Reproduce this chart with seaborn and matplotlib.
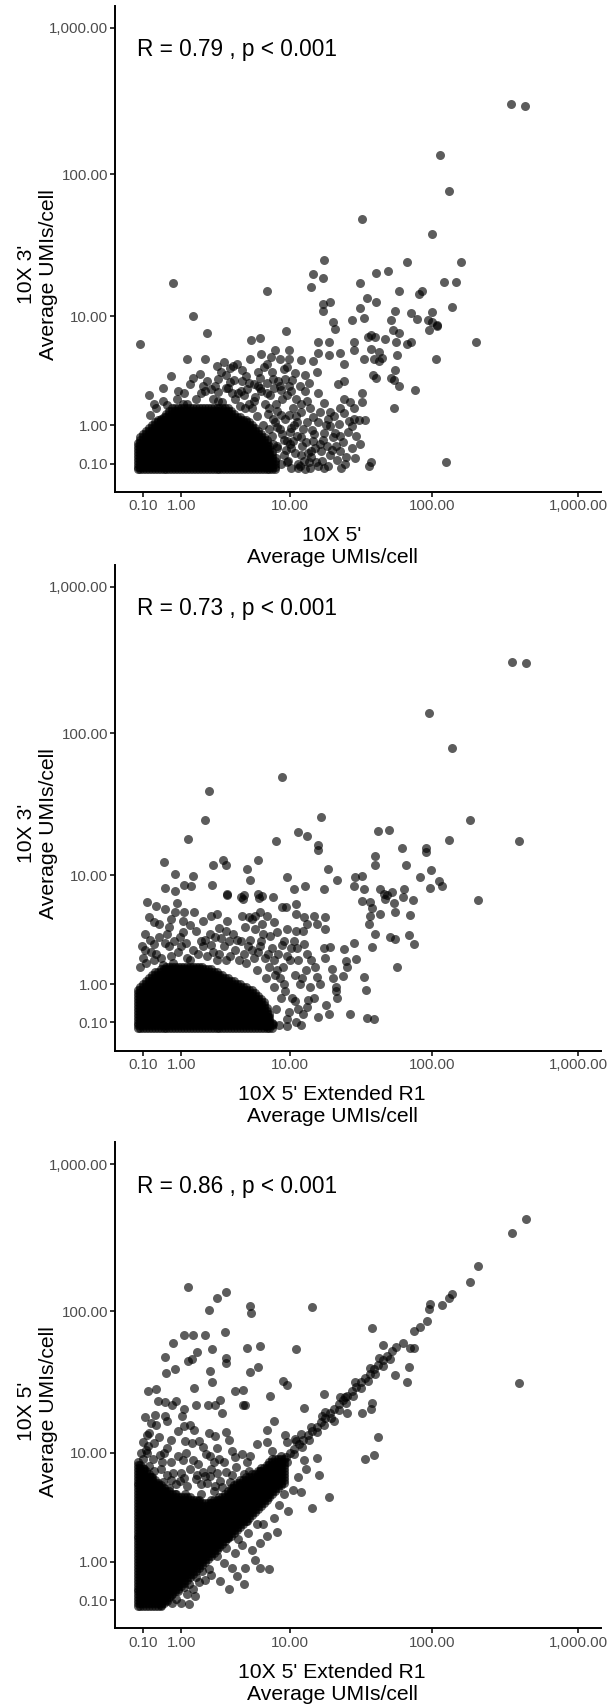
import numpy as np
import pandas as pd
import matplotlib
matplotlib.use("Agg")
import matplotlib.pyplot as plt
import seaborn as sns

# ================= AXIS TICKS =================
tick_values = [0.1, 1, 10, 100, 1000]
tick_labels = ["0.10", "1.00", "10.00", "100.00", "1,000.00"]

# ================= DENSE CORE (overplotted genes) =================
# UMIs/cell levels used to cover the solid black mass near the origin
core_levels = [0.01, 0.047, 0.096, 0.148, 0.202, 0.259, 0.318, 0.380, 0.445, 0.514,
               0.585, 0.660, 0.738, 0.820, 0.905, 0.995, 1.089, 1.188, 1.291, 1.399,
               1.512, 1.630, 1.754, 1.884, 2.020, 2.162, 2.311, 2.467, 2.631, 2.802,
               2.981, 3.169, 3.365, 3.571, 3.786, 4.012, 4.248, 4.495, 4.754, 5.026,
               5.310, 5.607, 5.918, 6.244, 6.586, 6.943, 7.318, 7.710, 8.120, 8.550,
               9.0]

# (row level, first column level, last column level)
core1_rows = [(0, 0, 47), (1, 0, 47), (2, 0, 47), (3, 0, 47), (4, 0, 46), (5, 0, 46),
              (6, 0, 46), (7, 0, 45), (8, 0, 45), (9, 0, 44), (10, 1, 44), (11, 1, 43),
              (12, 2, 42), (13, 3, 41), (14, 4, 40), (15, 5, 39), (16, 6, 38), (17, 7, 37),
              (18, 9, 35), (19, 10, 33), (20, 11, 32), (21, 12, 31)]

core2_rows = [(0, 0, 46), (1, 0, 46), (2, 0, 46), (3, 0, 45), (4, 0, 45), (5, 0, 45),
              (6, 0, 44), (7, 0, 44), (8, 0, 43), (9, 0, 43), (10, 0, 42), (11, 0, 41),
              (12, 0, 40), (13, 0, 39), (14, 1, 37), (15, 2, 35), (16, 3, 33), (17, 4, 31),
              (18, 5, 29), (19, 6, 27), (20, 8, 25), (21, 10, 22)]

core3_rows = [(0, 0, 8), (1, 0, 9), (2, 0, 10), (3, 0, 11), (4, 0, 12), (5, 0, 13),
              (6, 0, 14), (7, 0, 15), (8, 0, 16), (9, 0, 17), (10, 0, 18), (11, 0, 19),
              (12, 0, 20), (13, 0, 21), (14, 0, 22), (15, 0, 23), (16, 0, 24), (17, 0, 25),
              (18, 0, 26), (19, 0, 27), (20, 0, 28), (21, 0, 29), (22, 0, 30), (23, 0, 31),
              (24, 0, 32), (25, 0, 33), (26, 0, 34), (27, 0, 35), (28, 0, 36), (29, 0, 37),
              (30, 0, 38), (31, 0, 39), (32, 0, 40), (33, 0, 41), (34, 0, 42), (35, 0, 43),
              (36, 0, 21), (36, 25, 44), (37, 0, 17), (37, 28, 45), (38, 0, 13), (38, 30, 46),
              (39, 0, 11), (39, 31, 47), (40, 0, 9), (40, 32, 48), (41, 0, 8), (41, 33, 49),
              (42, 0, 7), (42, 34, 50), (43, 0, 6), (43, 35, 50), (44, 0, 5), (44, 37, 50),
              (45, 0, 4), (45, 39, 50), (46, 0, 3), (46, 41, 50), (47, 0, 2), (47, 42, 50),
              (48, 0, 1), (48, 44, 50), (49, 0, 0), (49, 45, 50), (50, 46, 50)]

# ================= PANEL 1 : 10X 5' (x) vs 10X 3' (y) =================
p1_outliers = [(345, 302), (429, 294), (114, 136), (130, 77), (33, 49.6), (100, 39),
               (17.7, 25.7), (67.5, 24.5), (159, 24.8), (14.6, 20.3), (50, 21.2),
               (41.2, 20.6), (0.75, 17.4), (17.4, 19), (14.1, 16.5), (31.6, 17.45),
               (121, 17.7), (145.6, 17.9), (6.6, 15.2), (59.5, 15.4), (86, 15.4),
               (82, 14.6), (35.4, 13.6), (40.9, 12.8), (17.4, 12.3), (19.6, 12.65),
               (136.8, 11.7), (32, 11.6), (17.3, 10.85), (1.41, 10), (27.8, 9.4),
               (33.7, 9.7), (55.6, 11), (71.4, 10.6), (78.4, 9.6), (100, 10.7),
               (100.6, 9), (108, 8.44), (96, 7.9), (109, 8.6), (200.8, 6.3),
               (106.9, 4.6), (75.9, 2.49), (124.9, 0.13), (37.7, 0.13), (37, 0.06),
               (0.047, 6.1), (0.30, 1.81), (2.01, 7.53), (9.33, 7.67), (4.95, 6.6),
               (5.9, 6.8), (1.2, 4.66), (1.88, 4.66), (1.68, 3.46), (2.49, 4.05),
               (2.92, 4.35)]
p1_middle = [(7.6, 5.53), (9.8, 5.53), (9.8, 4.66), (12.1, 4.56), (14.6, 4.5), (16.1, 6.3),
             (16.1, 5.17), (19.3, 6.3), (19.3, 4.99), (20.6, 9), (21, 8.0), (23, 5.17),
             (24.5, 4.2), (28.7, 6.3), (28.7, 5.5), (33.7, 4.66), (37.7, 5.6), (40, 4.66),
             (43.3, 4.5), (35.9, 6.9), (38, 7.2), (40.5, 6.9), (47.5, 6.73), (52.2, 9.3),
             (54, 7.9), (56.3, 6.3), (59.1, 7.4), (57.5, 4.99), (55.6, 3.77), (55, 3.03),
             (59, 2.7), (55, 1.6), (52, 3.2), (45, 4.7), (43, 5.3), (67, 6.1), (71.5, 6.4),
             (94.5, 9.3), (39.4, 3.38), (41, 3.2), (33, 2.33), (32.7, 1.86), (34.7, 1.18),
             (31, 1.18), (28.7, 1.62), (24.5, 3.0), (22.2, 2.8), (24.5, 2.02), (21.1, 0.76),
             (17.7, 0.76), (16.9, 0.33), (20.5, 0.67), (21.8, 0.17), (25.3, 0.22),
             (17.7, 0.03), (16.1, 0.05), (12.8, 0.01), (11.5, 0.02), (14.1, 0.33),
             (11.97, 0.67), (14.6, 1.28), (13.2, 1.94), (15.9, 2.3), (15.6, 3.58),
             (12.8, 3.4), (10.35, 3.03), (8.55, 2.49), (9.8, 2.7), (12, 1.48), (10.1, 0.92),
             (9.5, 0.56), (14.1, 0.22), (10.1, 0.4), (8.0, 0.95), (17.7, 1.85), (19.6, 1.48),
             (3.52, 4.05), (4.16, 3.77), (4.9, 4.66), (5.6, 3.6), (6.7, 4.2), (2.57, 3.14),
             (3.3, 2.91), (4.2, 3.0), (5.2, 2.8), (7.4, 3.14), (6.7, 2.3), (2.16, 2.53),
             (1.7, 2.3), (3.86, 2.3), (1.2, 1.8), (2.57, 1.94), (4.8, 1.8)]
p1_fringe = [(0.51, 1.94), (0.875, 2.03), (1.06, 1.81), (1.8, 2.69), (2.57, 2.39),
             (3.17, 2.59), (3.57, 3.03), (4.33, 2.2), (5.21, 1.94), (5.6, 2.7), (6.94, 1.62),
             (7.45, 1.21), (8.55, 1.34), (9.8, 1.34), (11.2, 1.09), (10.5, 0.57), (12, 0.25),
             (13.7, 0.12), (9.5, 0.12), (7.97, 0.41), (14.6, 0.57), (16.6, 0.49), (19.6, 0.98),
             (23.0, 0.33), (27.8, 0.98), (28.7, 1.21), (24.5, 1.41), (7.0, 0.05), (7.8, 0.2),
             (8.5, 0.1), (9.3, 0.35), (10.2, 0.03), (8.0, 0.45), (9.0, 0.6), (10.8, 0.3),
             (11.5, 0.1), (7.3, 0.7), (8.3, 0.9), (9.6, 0.15), (12.3, 0.45), (6.6, 0.3),
             (6.9, 0.9), (7.6, 1.1), (0.22, 1.35), (0.35, 1.6), (0.6, 1.75), (0.45, 1.2),
             (2.8, 1.9), (3.4, 2.3), (4.0, 1.7), (4.6, 2.5), (5.3, 2.1), (6.0, 2.4), (6.4, 1.8),
             (7.0, 2.2), (7.8, 1.8), (8.6, 2.0), (3.0, 3.4), (3.8, 4.2), (4.5, 3.3), (5.8, 3.2),
             (6.3, 4.0), (7.2, 3.6), (8.1, 3.0), (8.9, 3.8), (9.5, 2.2), (2.3, 2.0), (2.0, 3.0),
             (5.0, 1.6), (9.0, 0.25), (10.0, 0.8), (11.0, 1.3), (12.5, 0.9), (13.0, 0.55),
             (14.0, 1.6), (15.0, 0.75), (16.0, 1.1), (17.0, 0.15), (18.5, 0.45), (19.0, 1.2),
             (11.8, 0.05), (13.5, 0.3), (15.5, 0.12), (10.5, 1.6), (12.0, 1.8), (20.0, 0.35),
             (22.5, 1.05), (24.0, 0.55), (26.0, 0.8), (28.0, 0.4), (30.0, 0.7), (23.0, 1.6),
             (27.0, 1.9), (0.2, 2.2), (0.5, 2.6), (0.9, 2.4), (1.3, 2.8), (0.7, 3.3),
             (5.5, 1.3), (6.2, 1.0), (6.8, 1.4), (7.4, 0.5), (7.9, 1.5), (8.7, 0.75),
             (9.1, 1.2), (9.9, 0.5), (10.6, 1.0), (11.3, 0.7), (5.9, 2.6), (6.6, 2.9),
             (7.5, 2.6), (8.3, 2.7), (9.2, 3.1), (10.2, 2.4), (11.1, 2.0), (11.9, 2.7),
             (12.9, 2.4), (13.8, 2.9), (10.9, 3.5), (9.4, 4.0), (8.4, 4.6), (7.1, 4.8),
             (6.0, 5.1), (12.6, 0.15), (13.2, 1.1), (14.4, 0.85), (15.2, 0.4), (16.4, 1.45),
             (17.3, 0.6), (18.1, 1.0), (19.5, 0.25), (20.8, 1.3), (21.6, 0.45), (22.9, 0.7),
             (24.8, 0.1), (26.5, 1.15), (29.3, 0.2), (31.8, 0.5), (13.9, 0.02), (19.0, 0.05),
             (23.5, 0.02), (1.1, 2.3), (1.5, 2.0), (1.9, 2.4), (2.4, 2.7), (3.0, 2.6),
             (3.6, 2.0), (4.1, 2.4), (4.4, 1.6), (2.7, 3.6), (3.3, 3.9), (4.8, 2.9), (1.4, 3.2)]

# ================= PANEL 2 : 10X 5' Extended R1 (x) vs 10X 3' (y) =================
p2_outliers = [(352, 304.5), (439.5, 299.6), (96, 137.3), (136.7, 78.6), (8.68, 50.2),
               (2.08, 39.8), (1.89, 25), (181.4, 25.2), (16.9, 26.1), (1.22, 18.2),
               (7.81, 17.6), (11.4, 20.4), (13.26, 19.2), (15.9, 16.7), (16, 15.3),
               (42.3, 20.9), (50.9, 21.4), (130.8, 17.9), (393.5, 17.7), (91.5, 15.7),
               (91, 14.8), (62.7, 15.8), (40.2, 13.7), (40.2, 11.85), (66.8, 11.85),
               (99, 10.9), (83.3, 9.6), (96.5, 7.93), (111, 9.07), (117.3, 8.2),
               (205.5, 6.48), (74.2, 6.48), (70.3, 4.92), (69.5, 3.33), (74.9, 2.74),
               (57.5, 1.62), (56, 5.14), (56, 3.05), (51.2, 3.15), (63.9, 7.83),
               (63.5, 6.75), (53.1, 7.38), (49, 7.08), (47.8, 6.6), (47, 7.2), (44.1, 7.83),
               (55, 6.1), (37.5, 6.17), (33, 6.36), (38.5, 5.6), (37.5, 4.82), (37, 4.12),
               (40.5, 3.4), (38.5, 2.55), (35, 0.83), (40, 0.156), (35.5, 0.17),
               (26.9, 0.25), (19.1, 0.25), (44.1, 4.98)]
p2_middle = [(29.8, 1.96), (34.1, 1.22), (28.7, 2.8), (24.4, 2.46), (25.2, 1.88), (25.7, 1.6),
             (24, 1.26), (21.6, 0.8), (22, 0.6), (21.5, 0.9), (20.2, 1.53), (20.4, 1.2),
             (17.8, 2.03), (19.6, 2.55), (17.7, 2.5), (15.1, 1.6), (15.7, 1.22), (13.9, 0.92),
             (14.9, 0.62), (13.5, 0.56), (10.9, 0.54), (11.5, 0.35), (9.47, 0.04),
             (8.29, 0.055), (7.4, 0.07), (6.53, 0.04), (5.7, 0.05), (6.8, 0.19), (13.3, 2.2),
             (12.6, 2.74), (11.2, 2.5), (10.6, 2.94), (9.47, 3.73), (11, 3.6), (12.4, 3.6),
             (13.3, 4.12), (15.75, 4.12), (17.8, 3.73), (17.8, 4.68), (14.9, 4.8),
             (12.6, 4.75), (11, 4.97), (9.35, 5.64), (8.7, 5.7), (11, 6), (7.41, 6.76),
             (6.08, 6.96), (5.6, 7.2), (5.7, 6.7), (4.83, 9.17), (4.55, 11.08), (5.65, 12.9),
             (4.25, 6.6), (4.35, 7.0), (3.1, 7.0), (3.0, 11.85), (2.81, 12.96), (2.29, 11.85),
             (2.21, 8.46), (1.4, 9.9), (1.33, 8.3), (1.08, 8.4), (0.81, 10.2), (0.52, 12.4),
             (0.55, 7.97), (0.8, 7.6), (0.87, 6.1), (0.17, 6.18), (0.34, 5.8), (0.56, 5.5),
             (0.8, 5.14), (1.08, 5.14), (1.43, 5.14), (1.04, 4.38), (0.2, 4.74), (0.4, 4.12),
             (0.64, 3.85), (1.04, 3.5), (0.13, 3.37), (0.14, 2.4), (0.3, 2.75), (0.56, 2.78),
             (0.78, 2.95), (2.2, 4.8), (2.5, 4.98), (3.1, 4.38), (2.15, 3.37), (3.1, 7.15),
             (4.1, 6.8), (4.15, 4.8), (4.75, 4.68), (5.38, 4.8), (6.1, 4.12), (6.6, 4.8),
             (7.07, 3.27), (12.9, 8.3), (17.7, 7.83), (10.6, 7.83), (9.47, 9.6), (18.9, 11.08),
             (21.9, 9.2), (29.2, 9.6), (33, 9.9), (28.7, 8.3), (34, 7.83)]
p2_fringe = [(0.3, 1.9), (0.7, 2.1), (1.2, 2.0), (1.6, 2.2), (2.5, 1.9), (3.3, 2.1),
             (4.5, 1.8), (5.5, 1.5), (6.5, 1.2), (7.5, 0.9), (8.5, 0.6), (2.9, 2.6),
             (1.9, 3.0), (0.9, 2.3), (5.0, 2.4), (6.0, 2.9), (8.0, 1.5), (9.0, 1.0),
             (10.0, 1.9), (9.8, 0.3), (7.8, 0.35), (0.1, 2.0), (0.25, 2.3), (0.45, 2.0),
             (0.65, 2.6), (1.0, 2.6), (1.4, 2.4), (1.8, 2.6), (2.3, 2.3), (2.7, 3.1),
             (3.6, 2.4), (4.1, 2.9), (4.9, 3.0), (5.6, 2.3), (6.4, 2.0), (7.2, 2.5),
             (8.1, 2.2), (8.8, 1.6), (0.6, 3.4), (1.5, 3.6), (2.6, 3.8), (3.5, 3.4),
             (5.3, 3.7), (6.9, 1.6), (7.7, 1.3), (3.9, 1.9), (9.5, 0.15), (10.3, 0.6),
             (11.8, 1.0), (12.5, 0.25), (10.8, 1.3), (13.0, 1.5), (9.2, 0.8),
             (0.05, 1.6), (0.08, 2.6), (0.15, 1.8), (0.22, 3.0), (0.35, 2.2), (0.42, 3.2),
             (0.5, 1.7), (0.75, 1.8), (0.95, 3.2), (1.15, 2.8), (1.3, 1.9), (1.7, 2.9),
             (2.0, 2.1), (2.2, 2.7), (2.6, 2.2), (3.0, 1.9), (3.2, 2.9), (3.8, 3.0),
             (4.3, 2.2), (4.7, 2.6), (5.2, 2.0), (5.9, 2.6), (6.2, 3.4), (6.8, 2.2),
             (7.5, 1.9), (8.3, 1.2), (8.6, 2.7), (9.4, 2.1), (0.3, 4.3), (0.7, 4.5),
             (1.3, 4.0), (1.8, 4.4), (2.4, 3.2), (3.0, 3.6), (4.4, 3.9), (5.0, 4.5),
             (5.8, 5.2), (7.5, 4.3), (8.0, 3.5), (9.0, 2.9), (10.2, 2.5), (11.5, 1.9),
             (12.2, 1.2), (14.2, 1.9), (16.5, 1.0), (18.3, 0.45), (16.0, 0.2), (12.0, 0.05),
             (11.0, 0.1), (13.2, 0.4)]

# ================= PANEL 3 : 10X 5' Extended R1 (x) vs 10X 5' (y) =================
p3_upper = [(1.21, 145.6), (3.05, 135.1), (2.47, 123.2), (2.08, 100.9), (4.83, 108.6),
            (4.96, 96.2), (14.5, 106.2), (1.08, 68.2), (1.4, 68.2), (1.89, 67.9),
            (2.97, 71.6), (0.76, 59.8), (0.55, 48.1), (1.55, 52.1), (2.23, 54.8),
            (4.6, 55.8), (5.9, 57.6), (11, 55.1), (1.21, 45.1), (1.36, 46.9), (3.02, 47.1),
            (3.02, 43.9), (0.585, 37.5), (0.82, 39.6), (2.14, 38.4), (4.83, 38), (5.65, 41),
            (8.8, 33), (9.4, 31), (2.24, 32.3), (1.45, 29.3), (0.186, 28.1), (0.34, 28.9),
            (3.62, 27.8), (4.26, 28.6), (7.07, 25.7), (17.6, 26.4), (0.39, 23.7),
            (0.55, 23.2), (0.84, 23.9), (0.74, 22.4), (1.1, 20.7), (1.5, 22.1), (2.04, 22.4),
            (2.4, 22.4), (2.69, 24.3), (2.78, 19.6), (4.26, 22.4), (4.45, 22.1),
            (0.13, 18.2), (0.315, 19), (0.56, 18.5), (0.355, 15.9), (1.03, 18.7),
            (1.08, 15.7), (1.43, 14.6), (2.08, 14.1), (2.4, 13.3), (3.05, 14.3),
            (7.51, 17.2), (6.6, 14.6), (12.6, 21.2), (9.2, 13.65), (0.17, 13.65),
            (0.19, 11.2), (0.3, 11.8), (0.056, 10), (0.17, 10), (0.52, 10), (1.12, 12.3),
            (1.36, 11.8), (1.63, 12.3), (2.15, 9.4), (3.43, 10.3), (4.2, 9.8), (4.9, 9.4),
            (5.55, 11.6), (6.6, 12), (7.2, 10.3), (9.5, 12.1), (10.9, 12.7), (12.1, 13.7),
            (2.15, 6.64), (1.56, 6.8), (2.9, 8.6), (3.43, 6.8), (4.6, 8.6), (5.9, 7.3),
            (2.69, 6.07), (0.3, 7.26), (0.6, 6.84), (0.97, 6.07), (1.3, 7.5), (1.7, 5.71),
            (2.33, 5.05), (1.13, 4.74), (0.78, 4.18), (0.44, 4.74), (3.1, 3.91),
            (3.8, 4.74), (1.44, 3.42), (2.0, 2.97), (2.7, 2.6), (2.33, 8.6), (0.44, 9.6),
            (0.69, 8.6), (0.15, 5.5), (0.25, 6.5), (0.35, 5.0), (0.5, 6.0), (0.65, 5.3),
            (0.85, 5.8), (1.0, 7.0), (1.2, 5.6), (1.5, 6.3), (1.8, 7.2), (2.0, 5.9),
            (2.5, 7.0), (2.8, 5.4), (3.3, 6.0), (3.7, 7.8), (4.3, 6.9), (0.2, 8.0),
            (0.45, 7.6), (0.75, 7.0), (1.05, 8.8), (1.6, 8.2), (2.6, 9.0), (3.9, 5.2),
            (0.12, 4.2), (0.3, 3.6), (0.55, 3.8), (0.9, 3.4), (1.2, 3.8), (1.6, 4.2),
            (2.2, 4.0), (2.6, 3.6), (3.3, 4.6), (4.0, 4.0), (0.1, 12), (0.2, 14), (0.4, 13),
            (0.7, 12.5), (0.9, 14.5), (1.3, 16), (1.8, 11), (2.5, 10.8), (3.2, 12.5),
            (0.6, 17), (0.25, 16.5), (0.1, 3.0), (0.18, 3.4), (0.1, 5.0), (0.1, 6.3),
            (0.12, 7.5), (0.1, 9.0), (0.15, 10.5), (0.28, 9.0), (0.32, 4.5), (0.4, 5.6),
            (0.48, 8.5), (0.55, 4.4), (0.6, 10.8), (0.7, 6.2), (0.72, 3.9), (0.85, 4.8),
            (0.9, 9.5), (0.95, 3.3), (1.1, 6.4), (1.15, 10.0), (1.3, 4.5), (1.4, 8.9),
            (1.5, 3.6), (1.7, 4.8), (1.9, 6.6), (1.95, 9.8), (2.2, 7.6), (2.3, 3.3),
            (2.4, 5.6), (2.9, 4.1), (3.0, 7.1), (3.5, 5.3), (3.6, 9.3), (4.5, 5.8),
            (4.8, 7.3), (0.22, 2.8), (0.5, 3.0), (0.8, 2.8), (1.05, 3.0), (1.35, 2.9),
            (1.75, 3.1)]
p3_lower = [(6.65, 1.99), (5.55, 2.59), (4.7, 2.15), (4.55, 2.8), (3.84, 1.84), (3.1, 1.92),
            (5.31, 1.07), (4.45, 0.82), (3.4, 0.82), (6.87, 0.79), (5.8, 0.82), (4.32, 0.41),
            (3.2, 0.3), (2.66, 0.48), (2.2, 0.64), (2.08, 0.79), (1.77, 0.73), (1.5, 0.58),
            (1.24, 0.41), (1.18, 0.21), (0.73, 0.055), (1.27, 0.03), (1.47, 0.17),
            (0.9, 0.27), (0.69, 0.2), (19.1, 4.5), (14.5, 3.66), (16.2, 6.84), (15.7, 9.07),
            (12.6, 8.9), (34.6, 8.93), (39.6, 9.57), (42.2, 13.06), (32.9, 19.6),
            (38.5, 23.05), (38, 20.7), (25.7, 19.6), (20.7, 17.07), (17.2, 18.7),
            (67.4, 32.3), (56, 36.4), (69, 41.3), (46, 58.2), (43, 47.8), (25, 25.5),
            (396, 31.9), (38.5, 75.9), (70.4, 55.9), (74.9, 55.9), (2.5, 1.2), (3.0, 1.5),
            (3.6, 1.3), (4.2, 1.6), (2.9, 0.95), (3.8, 0.6), (5.0, 1.4), (5.8, 1.7),
            (6.2, 2.6), (7.5, 3.0), (8.2, 3.9), (9.0, 4.8), (10.5, 5.2), (11.5, 6.5),
            (13.0, 7.5), (8.0, 2.2), (9.6, 3.4), (12.0, 5.0), (0.45, 0.02), (0.6, 0.08),
            (0.85, 0.12), (1.0, 0.05), (1.1, 0.35), (1.4, 0.3), (1.65, 0.45), (1.9, 0.5)]
p3_diagonal = [(7.32, 7.32), (7.91, 7.91), (8.55, 8.55), (9.23, 9.23), (9.96, 9.96),
               (10.75, 10.75), (11.59, 11.59), (12.49, 12.49), (13.45, 13.45), (14.49, 14.49),
               (15.6, 15.6), (16.78, 16.78), (18.05, 18.05), (19.42, 19.42), (20.88, 20.88),
               (22.44, 22.44), (24.12, 24.12), (25.92, 25.92), (27.84, 27.84), (29.9, 29.9),
               (32.11, 32.11), (34.48, 34.48), (37.02, 37.02), (39.74, 39.74), (42.65, 42.65),
               (45.77, 45.77), (49.12, 49.12), (52.7, 52.7), (56.5, 56.5),
               (8.33, 7.51), (9.47, 8.55), (10.75, 9.72), (12.18, 11.02), (13.79, 12.49),
               (15.6, 14.14), (17.62, 15.98), (19.89, 18.05), (22.44, 20.38), (25.3, 22.99),
               (28.51, 25.92), (32.11, 29.2), (36.15, 32.88), (40.69, 37.02), (45.77, 41.66),
               (51.48, 46.86), (8.55, 9.47), (11.02, 12.18), (14.14, 15.6), (18.05, 19.89),
               (22.99, 25.3), (29.2, 32.11), (37.02, 40.69),
               (63.3, 60.1), (74.9, 72.8), (83.3, 77.5), (92.5, 85.3), (95, 102.5),
               (97.6, 110.9), (117.3, 109.7), (130.3, 123.2), (137.4, 131), (183, 157.5),
               (207, 201.8), (353, 342.6), (439.5, 423.6)]


# ================= BUILD TABLES =================
def build_points(core_rows, *point_lists):
    xs, ys = [], []
    for row, first, last in core_rows:
        for col in range(first, last + 1):
            xs.append(core_levels[col])
            ys.append(core_levels[row])
    for pts in point_lists:
        for x, y in pts:
            xs.append(x)
            ys.append(y)
    return pd.DataFrame({"x": xs, "y": ys})


df1 = build_points(core1_rows, p1_outliers, p1_middle, p1_fringe)
df2 = build_points(core2_rows, p2_outliers, p2_middle, p2_fringe)
df3 = build_points(core3_rows, p3_upper, p3_lower, p3_diagonal)


# ================= log10(x + 1) SCALE =================
def log1p_fwd(v):
    return np.log10(np.clip(np.asarray(v, dtype=float) + 1.0, 1e-9, None))


def log1p_inv(t):
    return 10.0 ** np.asarray(t, dtype=float) - 1.0


lim_lo = float(log1p_inv(-0.15))
lim_hi = float(log1p_inv(3.15))

# ================= FIGURE =================
sns.set_theme(style="ticks")
plt.rcParams["font.family"] = ["Liberation Sans", "DejaVu Sans"]

W, H = 614, 1707
fig = plt.figure(figsize=(W / 100, H / 100), dpi=100)

panels = [
    (df1, "R = 0.79 , p < 0.001", "10X 5'\nAverage UMIs/cell", "10X 3'\nAverage UMIs/cell", 491.7),
    (df2, "R = 0.73 , p < 0.001", "10X 5' Extended R1\nAverage UMIs/cell", "10X 3'\nAverage UMIs/cell", 1050.5),
    (df3, "R = 0.86 , p < 0.001", "10X 5' Extended R1\nAverage UMIs/cell", "10X 5'\nAverage UMIs/cell", 1628.3),
]

for df, r_text, xlab, ylab, bottom_px in panels:
    ax = fig.add_axes([115 / W, (H - bottom_px) / H, 485.5 / W, 486 / H])
    sns.scatterplot(data=df, x="x", y="y", ax=ax, color="black", alpha=0.64,
                    s=42, linewidth=0, legend=False)
    ax.set_xscale("function", functions=(log1p_fwd, log1p_inv))
    ax.set_yscale("function", functions=(log1p_fwd, log1p_inv))
    ax.set_xlim(lim_lo, lim_hi)
    ax.set_ylim(lim_lo, lim_hi)
    ax.set_xticks(tick_values)
    ax.set_xticklabels(tick_labels)
    ax.set_yticks(tick_values)
    ax.set_yticklabels(tick_labels)
    ax.minorticks_off()
    ax.set_xlabel("")
    ax.set_ylabel("")
    for side in ["top", "right"]:
        ax.spines[side].set_visible(False)
    for side in ["left", "bottom"]:
        ax.spines[side].set_linewidth(1.4)
        ax.spines[side].set_color("black")
    ax.tick_params(axis="x", length=3.5, width=1.1, color="black", pad=2.0,
                   labelsize=10.8, labelcolor="#4D4D4D")
    ax.tick_params(axis="y", length=3.5, width=1.1, color="black", pad=1.5,
                   labelsize=10.8, labelcolor="#4D4D4D")
    ax.text(0.046, 0.91, r_text, transform=ax.transAxes, fontsize=16.3,
            ha="left", va="center", color="black")

    # axis titles
    fig.text(332 / W, (H - (bottom_px + 55)) / H, xlab, ha="center", va="center",
             fontsize=15.2, linespacing=1.2, color="black")
    fig.text(37.5 / W, (H - (bottom_px - 243 + 26)) / H, ylab, ha="center", va="center",
             rotation=90, fontsize=15.2, linespacing=1.2, multialignment="center",
             color="black")

fig.savefig("out.png", dpi=100)
